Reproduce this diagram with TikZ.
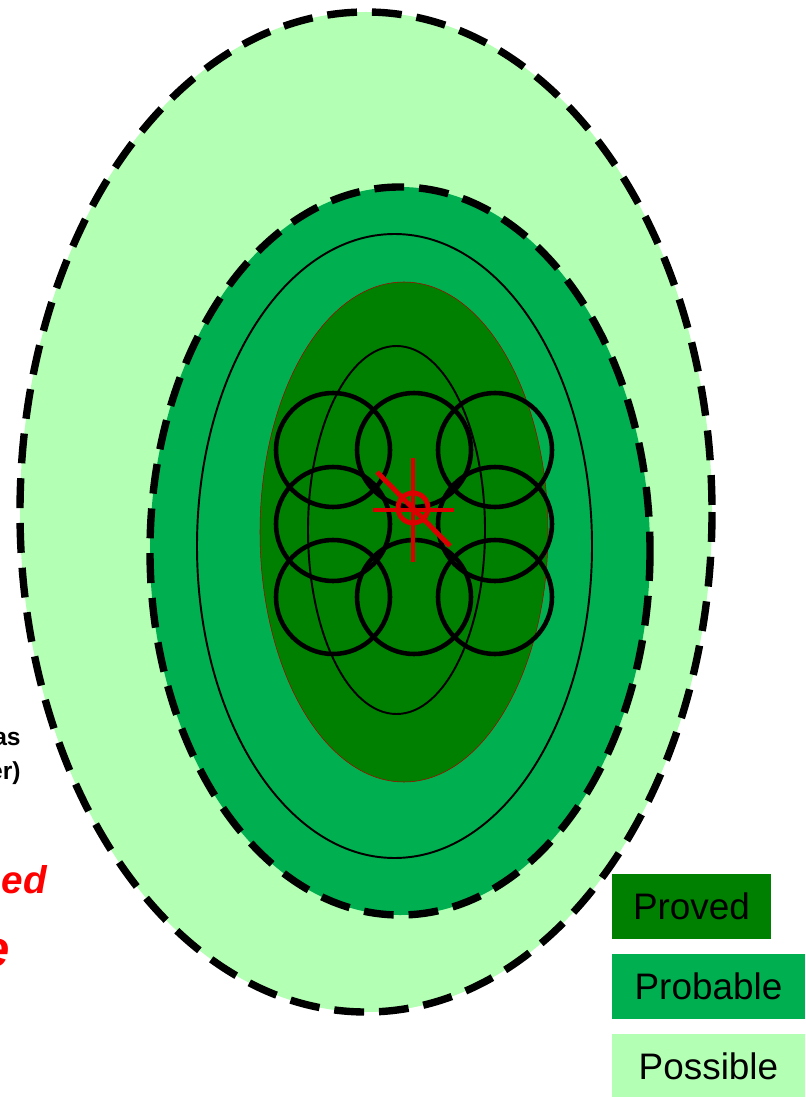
\documentclass[tikz,border=0pt]{standalone}
\usepackage{fontspec}
\setmainfont{Liberation Sans}
\usetikzlibrary{
  positioning,
}
\definecolor{possible}{RGB}{179,255,179}
\definecolor{probable}{RGB}{0,176,80}
\definecolor{proved}{RGB}{0,128,0}
\definecolor{target}{RGB}{220,0,0}
\tikzset{
  boundary/.style={line width=4.2pt, dash pattern=on 17pt off 8.5pt},
  contour/.style={line width=1.1pt},
  well/.style={line width=2.6pt},
  legend/.style={anchor=north west, inner sep=0pt, minimum height=36.8pt, font=\fontsize{21}{24}\selectfont},
}
\begin{document}
\begin{tikzpicture}[x=0.02cm, y=-0.02cm]
  \useasboundingbox (0,0) rectangle (805,1097);
  % zones
  \fill [possible] (366,512) ellipse [x radius=346, y radius=500];
  \draw [boundary] (366,512) ellipse [x radius=346, y radius=500];
  \fill [probable] (400,551) ellipse [x radius=250, y radius=364];
  \draw [boundary] (400,551) ellipse [x radius=250, y radius=364];
  \draw [contour] (394.5,546) ellipse [x radius=197.5, y radius=312];
  \filldraw [fill=proved, draw=red!70!black, line width=0.3pt] (404,532) ellipse [x radius=144, y radius=250];
  \draw [contour] (396.5,530) ellipse [x radius=88.5, y radius=184];
  % wells
  \foreach \x/\y in {333/450, 414/450, 495/450, 333/524, 495/524, 333/597, 414/597, 495/597}
    \draw [well] (\x,\y) circle [radius=57];
  % target
  \begin{scope}[target, line width=2.8pt]
    \draw (373,510) -- (454,510);
    \draw (413,458) -- (413,562);
    \draw (377,472) -- (450,546);
    \draw (413,508) circle [radius=15];
  \end{scope}
  % clipped labels
  \node [anchor=base east, inner sep=0pt, font=\bfseries\fontsize{14}{16}\selectfont] (lblas) at (21,745) {as};
  \node [anchor=base east, inner sep=0pt, font=\bfseries\fontsize{14}{16}\selectfont] (lbler) at (21,779) {er)};
  \node [anchor=base east, inner sep=0pt, text=red, font=\bfseries\itshape\fontsize{22}{26}\selectfont] (lbled) at (47,893) {ed};
  \node [anchor=base east, inner sep=0pt, text=red, font=\bfseries\itshape\fontsize{29}{32}\selectfont] (lble) at (10,966) {e};
  % legend
  \node [legend, fill=proved, minimum width=90.1pt] (proved) at (612,874) {Proved};
  \node [legend, fill=probable, minimum width=109.4pt] (probable) at (612,954) {Probable};
  \node [legend, fill=possible, minimum width=109.4pt] (possible) at (612,1034) {Possible};
\end{tikzpicture}
\end{document}
